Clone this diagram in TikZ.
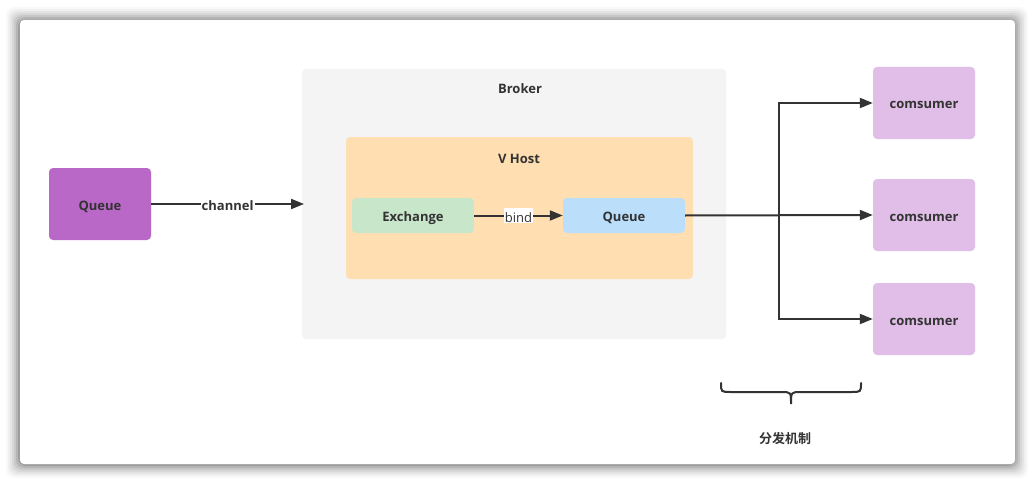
\documentclass[tikz,border=0pt]{standalone}
\usepackage{fontspec}
\setmainfont{Open Sans}
\newfontfamily\cjk{Noto Sans CJK SC}[BoldFont={Noto Sans CJK SC Bold}]
\usetikzlibrary{arrows.meta}
\definecolor{ink}{HTML}{333333}
\definecolor{qpurple}{HTML}{BA68C8}
\definecolor{brokerbg}{HTML}{F4F4F4}
\definecolor{vhostbg}{HTML}{FFDFB1}
\definecolor{exgreen}{HTML}{C8E6C9}
\definecolor{qblue}{HTML}{BBDEFB}
\definecolor{conspurple}{HTML}{E1BEE7}
\tikzset{
  box/.style={rounded corners=4pt, inner sep=0pt, font=\bfseries\fontsize{13}{15}\selectfont, text=ink, text height=12pt, text depth=0pt},
  conn/.style={draw=ink, line width=2pt, -{Triangle[length=13pt,width=10pt]}},
  lbl/.style={fill=white, inner sep=1pt, text=ink, font=\fontsize{13}{15}\selectfont, text height=13pt, text depth=0pt},
}
\begin{document}
\begin{tikzpicture}[x=1pt,y=-1pt]
\useasboundingbox (0,0) rectangle (1035,484);
\fill[white] (0,0) rectangle (1035,484);
% card shadow
\foreach \d/\o in {14/0.025,12/0.035,10/0.045,8/0.055,6/0.07,4/0.09,2/0.12}{
  \fill[black,opacity=\o,rounded corners=8pt] (20-\d,20-\d+1) rectangle (1015+\d-1,464+\d);
}
\fill[white,rounded corners=4pt] (20,20) rectangle (1015,464);
% broker
\node[box, fill=brokerbg, minimum width=424pt, minimum height=270pt] (broker) at (514,204) {};
\node[box, anchor=center] (brokertitle) at (520,88) {Broker};
% vhost
\node[box, fill=vhostbg, minimum width=347pt, minimum height=142pt] (vhost) at (519.5,208) {};
\node[box] (vhosttitle) at (519,157) {V Host};
% nodes
\node[box, fill=qpurple, minimum width=102pt, minimum height=72pt] (q1) at (100,204) {Queue};
\node[box, fill=exgreen, minimum width=122pt, minimum height=35pt] (ex) at (413,215.5) {Exchange};
\node[box, fill=qblue, minimum width=122pt, minimum height=35pt] (q2) at (624,215.5) {Queue};
\node[box, fill=conspurple, minimum width=102pt, minimum height=72pt] (c1) at (924,103) {comsumer};
\node[box, fill=conspurple, minimum width=102pt, minimum height=72pt] (c2) at (924,215) {comsumer};
\node[box, fill=conspurple, minimum width=102pt, minimum height=72pt] (c3) at (924,319) {comsumer};
\coordinate (brokerin) at (304,204);
\coordinate (split) at (779,215);
% connectors
\draw[conn] (q1.east) -- node[lbl, font=\bfseries\fontsize{13}{15}\selectfont] {channel} (brokerin);
\draw[conn] (ex.east) -- node[lbl] {bind} (q2.west);
\draw[conn] (q2.east) -- (c2.west);
\draw[conn] (split) |- (c1.west);
\draw[conn] (split) |- (c3.west);
% brace
\draw[ink, line width=2pt, line cap=round]
  (721,383) .. controls (721,392) .. (731,392) -- (781,392) .. controls (791,392) .. (791,404)
  .. controls (791,392) .. (801,392) -- (851,392) .. controls (861,392) .. (861,383);
\node[text=ink, font=\cjk\bfseries\fontsize{13}{15}\selectfont] (dist) at (785,439) {分发机制};
\end{tikzpicture}
\end{document}
